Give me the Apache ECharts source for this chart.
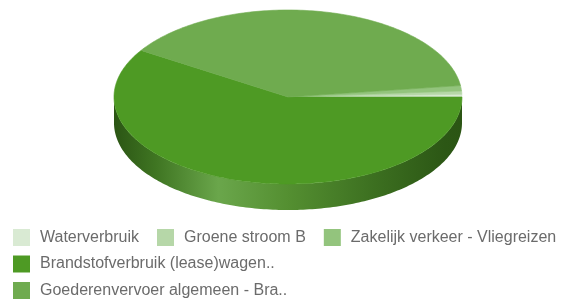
<!DOCTYPE html>
<html>
<head>
<meta charset="utf-8">
<script src="https://cdn.jsdelivr.net/npm/echarts@6/dist/echarts.min.js"></script>
<style>
  html, body { margin: 0; padding: 0; background: #fff; }
  #chart { width: 564px; height: 300px; }
</style>
</head>
<body>
<div id="chart"></div>
<script>
// categories + values (percent of total)
var names = ['Waterverbruik', 'Groene stroom B', 'Zakelijk verkeer - Vliegreizen',
	'Brandstofverbruik (lease)wagen..', 'Goederenvervoer algemeen - Bra..'];
var values = [0.5, 0.6, 1.0, 59.0, 38.9];
var colors = ['#d9ead3', '#b6d7a8', '#93c47d', '#4e9a24', '#6fab4f'];
// drawing order, counter-clockwise from 3 o'clock
var sliceOrder = [0, 1, 2, 4, 3];

var cx = 288, cy = 97, rx = 174, ry = 87, depth = 26;

var total = values.reduce(function(a, b) { return a + b; }, 0);
var startAngle = [];
var acc = 0;
sliceOrder.forEach(function(i) {
	startAngle[i] = acc / total * 360;
	acc += values[i];
});

function pt(deg, dy) {
	var t = deg * Math.PI / 180;
	return [cx + rx * Math.cos(t), cy - ry * Math.sin(t) + (dy || 0)];
}

function arc(a1, a2, dy) {
	var pts = [];
	var n = Math.max(2, Math.ceil(Math.abs(a2 - a1)));
	for (var j = 0; j <= n; j++) {
		pts.push(pt(a1 + (a2 - a1) * j / n, dy));
	}
	return pts;
}

var sideColor = {
	type: 'linear', global: true,
	x: cx - rx, y: 0, x2: cx + rx, y2: 0,
	colorStops: [
		{ offset: 0, color: '#2b5514' },
		{ offset: 0.12, color: '#3f7522' },
		{ offset: 0.3, color: '#6aa64b' },
		{ offset: 0.5, color: '#548f31' },
		{ offset: 0.75, color: '#3c6f20' },
		{ offset: 0.95, color: '#2c5715' },
		{ offset: 1, color: '#2b5514' }
	]
};

function makeRender(k) {
	return function(params, api) {
		var v = api.value(0);
		var a1 = startAngle[k];
		var a2 = a1 + v / total * 360;
		var children = [];
		// front wall, only the part in the lower half
		var s1 = Math.max(a1, 180), s2 = Math.min(a2, 360);
		if (s2 > s1) {
			var side = arc(s1, s2, 0).concat(arc(s2, s1, depth));
			children.push({
				type: 'polygon', z2: 1,
				shape: { points: side },
				style: { fill: sideColor, stroke: null }
			});
		}
		var top = [[cx, cy]].concat(arc(a1, a2, 0));
		children.push({
			type: 'polygon', z2: 10,
			shape: { points: top },
			style: { fill: colors[k], stroke: colors[k], lineWidth: 0.6 }
		});
		return { type: 'group', children: children };
	};
}

var series = names.map(function(name, k) {
	return {
		type: 'custom',
		name: name,
		coordinateSystem: 'none',
		itemStyle: { color: colors[k] },
		renderItem: makeRender(k),
		data: [[values[k]]],
		silent: true
	};
});

var legendBase = {
	left: 8,
	orient: 'horizontal',
	icon: 'rect',
	itemWidth: 17,
	itemHeight: 17,
	itemGap: 18,
	selectedMode: false,
	textStyle: {
		fontFamily: 'Liberation Sans, Arial, sans-serif',
		fontSize: 16,
		color: '#6b6b6b',
		padding: [0, 0, 0, 5]
	}
};

var chart = echarts.init(document.getElementById('chart'));
chart.setOption({
	animation: false,
	legend: [
		Object.assign({}, legendBase, { top: 224, data: names.slice(0, 3) }),
		Object.assign({}, legendBase, { top: 250.5, data: [names[3]] }),
		Object.assign({}, legendBase, { top: 277, data: [names[4]] })
	],
	series: series
});
</script>
</body>
</html>
